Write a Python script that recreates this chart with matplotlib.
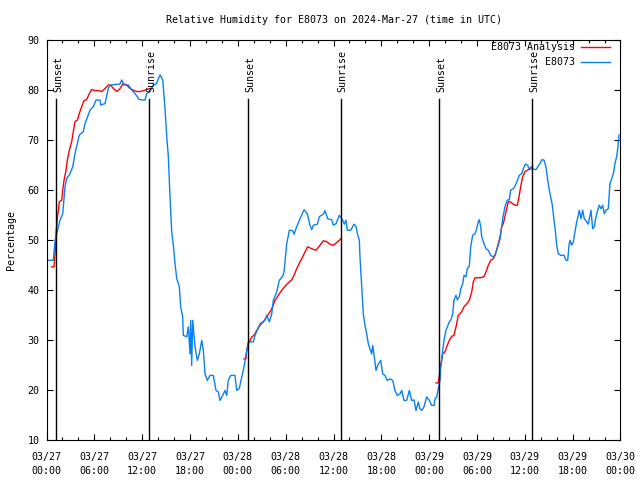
import numpy as np
import pandas as pd
import matplotlib
matplotlib.use('Agg')
import matplotlib.pyplot as plt
import matplotlib.dates as mdates

# hours after 2024-03-27 00:00 UTC
base = pd.Timestamp('2024-03-27 00:00')

obs_hours = [0.23, 0.85, 1.07, 1.48, 1.69, 2.03, 2.32, 2.53, 2.95, 3.29, 3.57, 3.86, 4.11, 4.62, 4.83,
             5.46, 5.87, 6.21, 6.71, 6.80, 7.34, 7.75, 7.97, 9.22, 9.43, 9.72, 10.26, 10.69, 11.10,
             11.64, 12.36, 12.57, 12.98, 13.40, 13.74, 14.24, 14.58, 14.86, 15.08, 15.28, 15.49,
             15.70, 15.91, 16.12, 16.33, 16.66, 16.83, 17.08, 17.16, 17.59, 17.79, 18.00, 18.09,
             18.21, 18.34, 18.63, 18.92, 19.17, 19.47, 19.67, 19.88, 20.17, 20.51, 20.92, 21.26,
             21.55, 21.76, 22.10, 22.39, 22.60, 22.80, 23.11, 23.64, 23.86, 24.18, 24.49, 24.77,
             25.02, 25.31, 25.94, 26.15, 26.78, 27.41, 27.62, 27.95, 28.25, 28.45, 28.88, 29.20,
             29.63, 29.79, 29.92, 30.13, 30.46, 30.88, 31.05, 31.38, 31.80, 32.30, 32.71, 33.05,
             33.27, 33.47, 33.97, 34.22, 34.72, 34.93, 35.27, 35.77, 35.98, 36.31, 36.73, 37.15,
             37.36, 37.57, 37.73, 38.16, 38.57, 38.82, 38.99, 39.24, 39.32, 39.54, 39.74, 39.95,
             40.16, 40.37, 40.58, 40.79, 40.92, 41.12, 41.33, 41.62, 41.92, 42.17, 42.46, 42.75,
             43.09, 43.43, 43.71, 44.00, 44.34, 44.56, 44.84, 45.18, 45.51, 45.81, 46.10, 46.35,
             46.64, 46.85, 47.06, 47.35, 47.69, 48.02, 48.32, 48.61, 48.73, 48.95, 49.15, 49.36,
             49.45, 49.57, 49.70, 49.86, 50.11, 50.28, 50.53, 50.70, 50.95, 51.11, 51.37, 51.53,
             51.78, 51.96, 52.21, 52.37, 52.62, 52.78, 53.04, 53.21, 53.46, 53.75, 53.96, 54.16,
             54.29, 54.47, 54.59, 54.88, 55.13, 55.42, 55.72, 55.97, 56.26, 56.47, 56.67, 56.89,
             57.10, 57.22, 57.51, 57.80, 58.05, 58.23, 58.55, 58.77, 59.06, 59.31, 59.61, 59.81,
             60.06, 60.36, 60.56, 60.86, 61.40, 61.69, 61.90, 62.15, 62.40, 62.65, 62.87, 63.07,
             63.28, 63.45, 63.66, 63.82, 64.00, 64.20, 64.50, 64.91, 65.17, 65.38, 65.54, 65.67,
             65.88, 66.08, 66.29, 66.51, 66.71, 66.83, 67.05, 67.26, 67.46, 67.76, 67.96, 68.18,
             68.30, 68.51, 68.72, 68.93, 69.14, 69.34, 69.56, 69.77, 69.97, 70.18, 70.47, 70.68,
             70.90, 71.10, 71.31, 71.52, 71.65, 71.81]
obs_rh = [46, 46, 50, 52.7, 54, 55.3, 60.7, 62.3, 63.3, 64.7, 67.3, 69.3, 71, 71.7, 73.3,
          76, 76.7, 78, 78, 77, 77.3, 80.3, 81, 81.2, 82, 81, 81, 80, 79.3,
          78.1, 78, 79.3, 79.7, 81, 81.2, 83, 82, 76.4, 70.7, 66.7, 58.7,
          51.7, 49, 45.3, 42.4, 40.7, 36.7, 34.7, 31, 30.7, 32.7, 27.3, 34,
          25, 34, 28.7, 26, 27.3, 30, 28, 23.3, 22, 23, 23, 20,
          19.7, 18, 19, 20, 19, 22, 23, 23, 20, 20.4, 22.7, 24.7,
          27, 29.7, 29.7, 31, 33.3, 34, 35, 33.7, 35.3, 38, 39.7, 42,
          42.8, 43.7, 45.7, 49.3, 52, 51.9, 51.2, 52.7, 54.3, 56.1, 55.3, 53,
          52.1, 53, 53.2, 54.7, 55.2, 55.9, 54.3, 54.1, 53, 53.3, 55, 54,
          53.2, 54, 52, 52, 53.2, 52.8, 51.3, 50, 46.7, 40.7, 35.3, 33,
          31.3, 29.3, 28.3, 27.3, 29, 26.7, 24, 25.3, 26, 23.3, 23, 22,
          22.3, 22, 20, 19, 19.3, 20, 18, 18, 20, 18, 18.1, 16,
          17.7, 16.3, 16, 16.7, 18.7, 18, 17, 17, 18.3, 18.7, 20.5, 22,
          24.7, 26, 28, 30, 32, 32.7, 33.7, 34, 35.3, 38, 39, 38.1,
          38.7, 40.3, 41.3, 43, 42.7, 44.3, 44.8, 48.7, 51, 51.3, 52.3, 53.7,
          54.1, 52.7, 50.7, 49.3, 48.3, 48, 47, 46.7, 47, 48, 49, 50.3,
          52.7, 54.3, 56.7, 58, 58.1, 60, 60.3, 60.8, 61.9, 63, 63.3, 64.3,
          65.2, 65, 64.1, 64.3, 64.1, 64.8, 65.3, 66.1, 66, 64.7, 62, 60,
          58.3, 57, 54, 52, 49, 47.3, 47, 47, 46, 46, 49, 50,
          49, 49.7, 51.7, 53.7, 55, 56, 54.3, 56, 54.3, 53.7, 53.2, 55,
          56, 52.3, 52.7, 54.7, 56, 57, 56.3, 57, 55.3, 56, 56.3, 61.3,
          62.3, 63.3, 65.3, 66.7, 68.3, 71]

# analysis only exists during night, NaN breaks the line between segments
ana_hours = [0.65, 0.94, 1.07, 1.19, 1.35, 1.61, 1.91, 2.03, 2.20, 2.45, 2.61, 2.86, 3.16, 3.36,
             3.57, 3.86, 4.11, 4.42, 4.70, 5.04, 5.37, 5.67, 6.08, 6.50, 6.92, 7.34, 7.75, 8.05,
             8.38, 8.81, 9.22, 9.63, 10.06, 10.47, 10.98, 11.31, 11.73, 12.14, 12.57, 12.90,
             18.0,
             24.77, 25.02, 25.11, 25.31, 25.53, 25.74, 26.03, 26.37, 26.78, 27.19, 27.62, 28.04,
             28.37, 28.66, 29.08, 29.50, 29.92, 30.33, 30.76, 31.05, 31.38, 31.80, 32.14, 32.43,
             32.76, 33.27, 33.81, 34.31, 34.72, 35.15, 35.56, 35.98, 36.40, 36.94,
             42.0,
             48.86, 49.15, 49.27, 49.45, 49.70, 49.98, 50.27, 50.53, 50.83, 51.11, 51.37, 51.65,
             52.08, 52.37, 52.71, 53.04, 53.34, 53.54, 53.75, 54.38, 54.88, 55.13, 55.42, 55.72,
             56.05, 56.26, 56.47, 56.67, 56.89, 57.10, 57.30, 57.64, 57.93, 58.14, 58.48, 58.77,
             59.06, 59.31, 59.48, 59.73, 60.02, 60.44, 60.74, 60.99]
ana_rh = [44.7, 44.7, 47.3, 51.3, 54.3, 57.7, 58, 60, 62, 64, 66, 68, 69.7, 71.7,
          73.7, 74, 75.3, 76.7, 77.9, 78.1, 79.3, 80.1, 79.9, 79.9, 79.7, 80.3, 81, 81,
          80.3, 79.7, 80.3, 81.3, 81, 80.3, 79.9, 79.7, 79.7, 79.9, 80.1, 80.3,
          np.nan,
          26.3, 26.3, 28, 29.3, 30, 30.7, 31, 32, 33, 33.7, 34.7, 35.7,
          36.7, 38, 39, 40, 40.8, 41.5, 42.1, 43, 44.3, 45.7, 46.7, 47.7,
          48.7, 48.3, 48, 49, 49.9, 49.7, 49.2, 49, 49.5, 50.3,
          np.nan,
          21.5, 21.5, 23, 25, 27.3, 27.7, 29, 30, 30.8, 31, 32.7, 35,
          35.7, 36.7, 37.3, 38, 39.7, 41.7, 42.5, 42.5, 42.7, 43.7, 45, 46,
          46.3, 47, 48.1, 49.3, 50.7, 52.7, 53.3, 55.7, 57.7, 57.7, 57.3, 57,
          57, 59, 60.7, 62.7, 63.7, 64.1, 64.5, 64.8]

sun_hours = [1.19, 12.90, 25.31, 36.90, 49.27, 60.94]
sun_labels = ['Sunset', 'Sunrise', 'Sunset', 'Sunrise', 'Sunset', 'Sunrise']

def to_time(h):
    return base + pd.to_timedelta(np.asarray(h, dtype=float), unit='h')

FONT = 'DejaVu Sans Mono'
FS = 7.2
plt.rcParams['font.family'] = FONT
plt.rcParams['font.size'] = FS

fig = plt.figure(figsize=(6.4, 4.8), dpi=100)
ax = fig.add_axes([0.0727, 0.0823, 0.8968, 0.8344])

ax.plot(to_time(ana_hours), ana_rh, color='#ff0000', lw=1.0)
ax.plot(to_time(obs_hours), obs_rh, color='#0a80f5', lw=1.0)

for h, lab in zip(sun_hours, sun_labels):
    t = to_time([h])[0]
    ax.plot([t, t], [10, 78.2], color='black', lw=1.0)
    ax.text(t + pd.Timedelta(minutes=15), 79.6, lab, rotation=90, ha='center', va='bottom',
            fontsize=FS)

ax.set_xlim(to_time([0])[0], to_time([72])[0])
ax.set_ylim(10, 90)
ax.set_yticks(np.arange(10, 91, 10))
ax.xaxis.set_major_locator(mdates.HourLocator(byhour=[0, 6, 12, 18]))
ax.xaxis.set_minor_locator(mdates.HourLocator(interval=2))
ax.xaxis.set_major_formatter(mdates.DateFormatter('%m/%d\n%H:%M'))
ax.tick_params(which='both', direction='in', top=True, right=True, width=0.8)
ax.tick_params(which='major', length=4.5)
ax.tick_params(which='minor', length=2.2)
ax.tick_params(axis='x', which='major', pad=8)
ax.tick_params(axis='y', pad=5)
for lbl in ax.get_xticklabels():
    lbl.set_linespacing(1.6)
for sp in ax.spines.values():
    sp.set_linewidth(0.8)

ax.set_ylabel('Percentage', fontsize=FS, labelpad=8)
ax.set_title('Relative Humidity for E8073 on 2024-Mar-27 (time in UTC)', fontsize=FS, pad=12)

# legend, gnuplot style: right-aligned text, sample line on the right
for y, txt, col in [(0.9825, 'E8073 Analysis', '#ff0000'), (0.945, 'E8073', '#0a80f5')]:
    ax.text(0.921, y, txt, transform=ax.transAxes, ha='right', va='center', fontsize=FS)
    ax.plot([0.931, 0.982], [y, y], color=col, lw=1.0, transform=ax.transAxes)

fig.savefig('out.png', dpi=100)
